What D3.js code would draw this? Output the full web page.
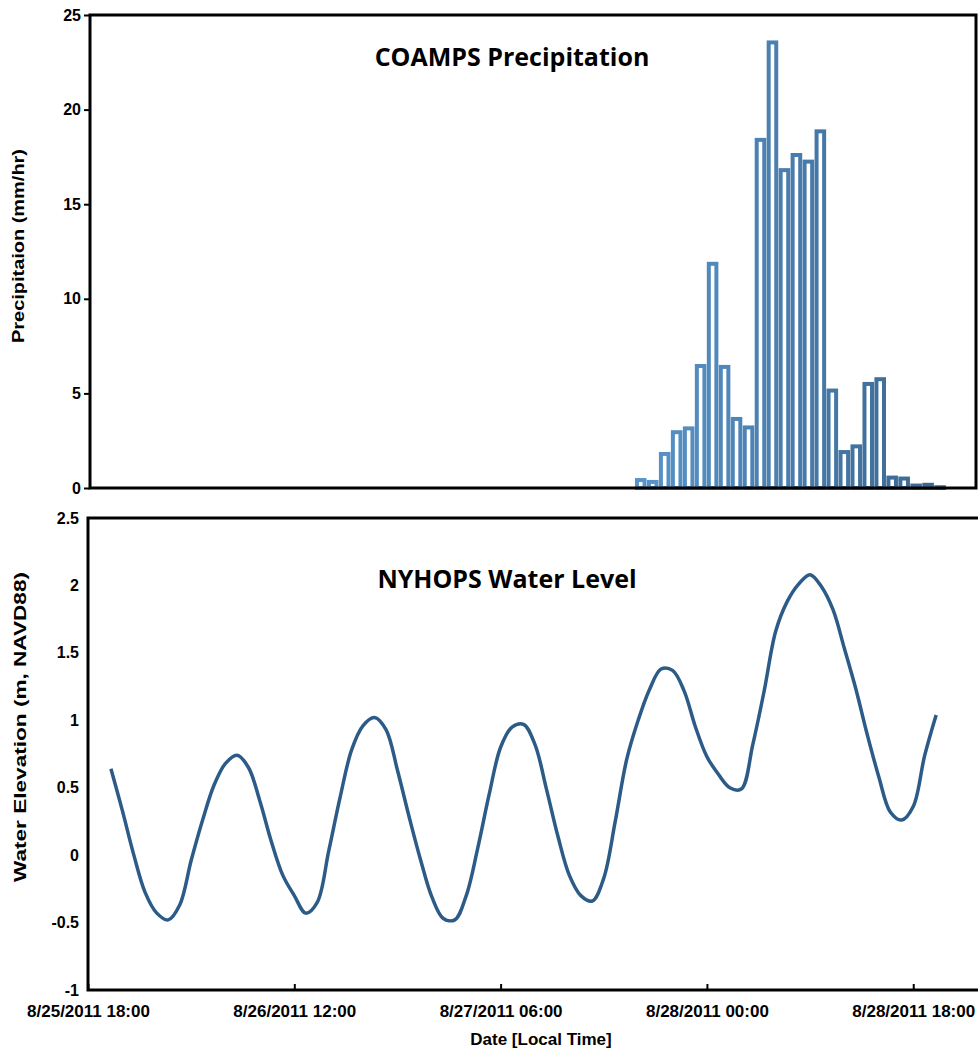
<!DOCTYPE html>
<html>
<head>
<meta charset="utf-8">
<script src="https://cdn.jsdelivr.net/npm/d3@7"></script>
<style>
  body { margin: 0; background: #fff; }
  .axis text { font-family: "Liberation Sans", Arial, sans-serif; font-weight: bold; fill: #000; }
  .axisText { font-family: "Liberation Sans", Arial, sans-serif; font-weight: bold; font-size: 17px; fill: #000; }
  .title { font-family: "Open Sans", "Noto Sans", sans-serif; font-weight: bold; font-size: 25px; fill: #000; }
</style>
</head>
<body>
<div id="chart"></div>
<script>
// Data
// COAMPS precipitation, hourly bars starting 8/27/2011 16:00 (mm/hr)
var precipStart = "2011-08-27 16:00";
var precipValues = [0.42, 0.32, 1.8, 2.95, 3.15, 6.45, 11.85, 6.4, 3.65, 3.2,
    18.4, 23.55, 16.8, 17.6, 17.25, 18.85, 5.15, 1.9, 2.2, 5.5,
    5.75, 0.55, 0.5, 0.13, 0.17, 0.04];

// NYHOPS water level, hourly starting 8/25/2011 20:00 (m, NAVD88)
var levelStart = "2011-08-25 20:00";
var levelValues = [0.64, 0.33, 0.0, -0.28, -0.43, -0.48, -0.37, -0.04, 0.26, 0.52,
    0.68, 0.74, 0.65, 0.40, 0.10, -0.15, -0.30, -0.43, -0.35, 0.03,
    0.43, 0.78, 0.96, 1.02, 0.93, 0.63, 0.29, -0.03, -0.31, -0.47,
    -0.48, -0.30, 0.05, 0.45, 0.80, 0.95, 0.97, 0.82, 0.49, 0.14,
    -0.15, -0.30, -0.34, -0.17, 0.25, 0.71, 1.00, 1.23, 1.38, 1.37,
    1.22, 0.95, 0.73, 0.60, 0.50, 0.49, 0.82, 1.22, 1.66, 1.88,
    2.01, 2.08, 1.99, 1.82, 1.53, 1.23, 0.89, 0.58, 0.32, 0.26,
    0.36, 0.74, 1.04];

var dateTicks = ["2011-08-25 18:00", "2011-08-26 12:00", "2011-08-27 06:00",
    "2011-08-28 00:00", "2011-08-28 18:00"];
var precipTicks = [0, 5, 10, 15, 20, 25];
var levelTicks = [-1, -0.5, 0, 0.5, 1, 1.5, 2, 2.5];

var parseTime = d3.timeParse("%Y-%m-%d %H:%M");
var formatTick = d3.timeFormat("%-m/%d/%Y %H:%M");
var HOUR = 3600 * 1000;

var precipData = precipValues.map((v, i) => ({ t: new Date(+parseTime(precipStart) + i * HOUR), v: v }));
var levelData = levelValues.map((v, i) => ({ t: new Date(+parseTime(levelStart) + i * HOUR), v: v }));

var svgWidth = 978;
var svgHeight = 1052;

var svg = d3.select("#chart")
    .append("svg")
    .attr("width", svgWidth)
    .attr("height", svgHeight);

// ---------- Top panel: precipitation ----------
var topBox = { left: 90, right: 976, top: 15, bottom: 488 };

var xTop = d3.scaleTime()
    .domain([parseTime("2011-08-25 18:00"), parseTime("2011-08-28 20:00")])
    .range([topBox.left, topBox.right]);

var yTop = d3.scaleLinear()
    .domain([0, 25])
    .range([topBox.bottom, topBox.top]);

var barColor = d3.scaleLinear()
    .domain([0, precipData.length - 1])
    .range(["#5894ca", "#3a6690"])
    .interpolate(d3.interpolateRgb);

var barW = xTop(new Date(HOUR)) - xTop(new Date(0));

svg.append("g")
    .selectAll("rect")
    .data(precipData)
    .enter()
    .append("rect")
    .attr("x", d => xTop(d.t) - barW / 2 + 2.2)
    .attr("y", d => yTop(d.v))
    .attr("width", barW - 4.4)
    .attr("height", d => yTop(0) - yTop(d.v))
    .attr("fill", "#fff")
    .attr("stroke", (d, i) => barColor(i))
    .attr("stroke-width", 4);

svg.append("g")
    .attr("class", "axis")
    .attr("transform", `translate(${topBox.left}, 0)`)
    .call(d3.axisLeft(yTop).tickValues(precipTicks).tickSize(6).tickPadding(3).tickSizeOuter(0))
    .call(g => g.select(".domain").remove())
    .call(g => g.selectAll(".tick line").attr("stroke", "#000").attr("stroke-width", 2))
    .call(g => g.selectAll("text").attr("font-size", 16));

// frame
svg.append("rect")
    .attr("x", topBox.left).attr("y", topBox.top)
    .attr("width", topBox.right - topBox.left).attr("height", topBox.bottom - topBox.top)
    .attr("fill", "none").attr("stroke", "#000").attr("stroke-width", 3);

svg.append("text")
    .attr("class", "title")
    .attr("x", 512).attr("y", 66)
    .attr("text-anchor", "middle")
    .text("COAMPS Precipitation");

svg.append("text")
    .attr("class", "axisText")
    .attr("transform", `translate(24, 246) rotate(-90)`)
    .attr("text-anchor", "middle")
    .attr("textLength", 194)
    .attr("lengthAdjust", "spacingAndGlyphs")
    .text("Precipitaion (mm/hr)");

// ---------- Bottom panel: water level ----------
var botBox = { left: 88, right: 982, top: 518, bottom: 990 };

var xBot = d3.scaleTime()
    .domain([parseTime("2011-08-25 18:00"), parseTime("2011-08-29 00:00")])
    .range([botBox.left, botBox.right]);

var yBot = d3.scaleLinear()
    .domain([-1, 2.5])
    .range([botBox.bottom, botBox.top]);

var line = d3.line()
    .x(d => xBot(d.t))
    .y(d => yBot(d.v))
    .curve(d3.curveCatmullRom);

svg.append("path")
    .datum(levelData)
    .attr("d", line)
    .attr("fill", "none")
    .attr("stroke", "#2c5b88")
    .attr("stroke-width", 3.5)
    .attr("stroke-linejoin", "round");

svg.append("g")
    .attr("class", "axis")
    .attr("transform", `translate(${botBox.left}, 0)`)
    .call(d3.axisLeft(yBot).tickValues(levelTicks).tickSize(0).tickPadding(9).tickFormat(d => String(d)))
    .call(g => g.select(".domain").remove())
    .call(g => g.selectAll("text").attr("font-size", 16));

svg.append("g")
    .attr("class", "axis")
    .attr("transform", `translate(0, ${botBox.bottom})`)
    .call(d3.axisBottom(xBot).tickValues(dateTicks.map(parseTime)).tickFormat(formatTick)
        .tickSizeInner(-6).tickSizeOuter(0).tickPadding(15))
    .call(g => g.select(".domain").remove())
    .call(g => g.selectAll(".tick line").attr("stroke", "#000").attr("stroke-width", 2))
    .call(g => g.selectAll("text").attr("font-size", 17));

svg.append("rect")
    .attr("x", botBox.left).attr("y", botBox.top)
    .attr("width", botBox.right - botBox.left).attr("height", botBox.bottom - botBox.top)
    .attr("fill", "none").attr("stroke", "#000").attr("stroke-width", 3);

svg.append("text")
    .attr("class", "title")
    .attr("x", 507).attr("y", 588)
    .attr("text-anchor", "middle")
    .text("NYHOPS Water Level");

svg.append("text")
    .attr("class", "axisText")
    .attr("transform", `translate(26, 727) rotate(-90)`)
    .attr("text-anchor", "middle")
    .attr("textLength", 310)
    .attr("lengthAdjust", "spacingAndGlyphs")
    .text("Water Elevation (m, NAVD88)");

svg.append("text")
    .attr("class", "axisText")
    .attr("x", 541).attr("y", 1045)
    .attr("text-anchor", "middle")
    .text("Date [Local Time]");
</script>
</body>
</html>
